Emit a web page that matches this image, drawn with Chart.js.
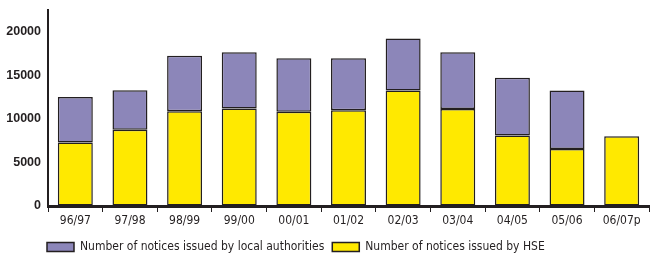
<!DOCTYPE html>
<html>
<head>
<meta charset="utf-8">
<script src="https://cdn.jsdelivr.net/npm/chart.js@4"></script>
<style>
  html, body { margin: 0; padding: 0; background: #fff; }
  #wrap { width: 650px; height: 256px; position: relative; }
</style>
</head>
<body>
<div id="wrap"><canvas id="noticesChart"></canvas></div>
<script>
"use strict";

const years = ['96/97', '97/98', '98/99', '99/00', '00/01', '01/02', '02/03', '03/04', '04/05', '05/06', '06/07p'];
const hseNotices = [7300, 8750, 10870, 11180, 10830, 10980, 13260, 11130, 8090, 6550, 8010];
const localAuthorityNotices = [5200, 4550, 6390, 6470, 6130, 5980, 5970, 6520, 6630, 6710, 0];
const yTicks = [0, 5000, 10000, 15000, 20000];

const narrow = "'DejaVu Sans Condensed', 'Liberation Sans Narrow', sans-serif";

// move the legend to where it sits in the original
const legendPlace = {
    id: 'legendPlace',
    afterLayout(chart) {
        const lg = chart.legend;
        lg.left = 39;
        lg.top = 233;
    }
};

const ctx = document.getElementById('noticesChart').getContext('2d');

new Chart(ctx, {
    type: 'bar',
    data: {
        labels: years,
        datasets: [{
            label: 'Number of notices issued by HSE',
            data: hseNotices,
            backgroundColor: '#ffe900',
            borderColor: '#231f20',
            borderWidth: 1.5,
            borderSkipped: false,
            barPercentage: 0.64,
            categoryPercentage: 1,
        }, {
            label: 'Number of notices issued by local authorities',
            data: localAuthorityNotices,
            backgroundColor: '#8c86b9',
            borderColor: '#231f20',
            borderWidth: 1.5,
            borderSkipped: false,
            barPercentage: 0.64,
            categoryPercentage: 1,
        }]
    },
    options: {
        responsive: true,
        maintainAspectRatio: false,
        animation: false,
        layout: {
            padding: { top: 10, right: 1, left: 0, bottom: 0 }
        },
        plugins: {
            tooltip: { enabled: false },
            legend: {
                position: 'bottom',
                align: 'start',
                reverse: true,
                labels: {
                    boxWidth: 27,
                    boxHeight: 9,
                    padding: 8,
                    color: '#231f20',
                    font: { family: narrow, size: 12 },
                },
            },
        },
        scales: {
            x: {
                stacked: true,
                afterFit: (scale) => { scale.height = 20; },
                border: { color: '#231f20', width: 3 },
                grid: {
                    drawOnChartArea: false,
                    drawTicks: true,
                    tickLength: 6,
                    color: '#231f20',
                    lineWidth: 1,
                },
                ticks: {
                    color: '#231f20',
                    padding: 2,
                    font: { family: narrow, size: 12 },
                },
            },
            y: {
                stacked: true,
                min: 0,
                max: 22500,
                afterBuildTicks: (scale) => {
                    scale.ticks = yTicks.map((v) => ({ value: v }));
                },
                afterFit: (scale) => {
                    scale.width = 48;
                    scale.paddingTop = 0;
                    scale.paddingBottom = 0;
                },
                border: { color: '#231f20', width: 2 },
                grid: { drawOnChartArea: false, drawTicks: false },
                ticks: {
                    color: '#231f20',
                    padding: 7,
                    callback: (value) => String(value),
                    font: { family: "'Liberation Sans', Arial, sans-serif", size: 12.5, weight: 'bold' },
                },
            },
        },
    },
    plugins: [legendPlace],
});
</script>
</body>
</html>
